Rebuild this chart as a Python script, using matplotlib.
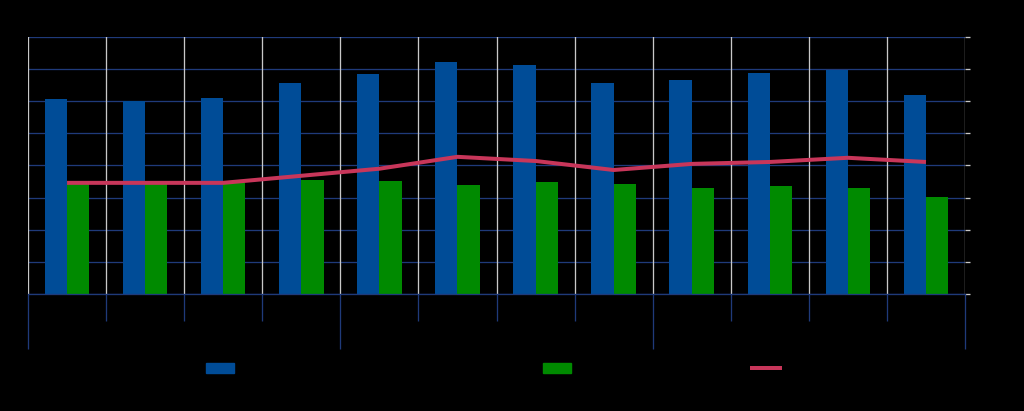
import numpy as np
import matplotlib.pyplot as plt
from matplotlib.patches import Patch
from matplotlib.lines import Line2D

# values (units of one gridline step)
blue_vals = [6.07, 6.01, 6.10, 6.57, 6.85, 7.23, 7.13, 6.57, 6.67, 6.88, 6.98, 6.20]
green_vals = [3.43, 3.46, 3.46, 3.55, 3.52, 3.40, 3.49, 3.43, 3.30, 3.36, 3.30, 3.02]
red_vals = [3.46, 3.46, 3.46, 3.68, 3.90, 4.27, 4.14, 3.86, 4.05, 4.11, 4.24, 4.11]

BLUE = '#004c97'
GREEN = '#008a00'
RED = '#c8365a'
GRID = '#1f3a7a'
VGRID = '#c8c8c8'

PX = 72 / 100  # points per pixel


def main():
    fig = plt.figure(figsize=(10.24, 4.11), dpi=100, facecolor='black')
    ax = fig.add_axes([28/1024, 1 - 294/411, (965 - 28)/1024, (294 - 37)/411])
    ax.set_facecolor('black')

    n = len(blue_vals)
    x = np.arange(n) + 0.5
    w = 0.285
    ax.bar(x - w/2, blue_vals, w, color=BLUE, zorder=3)
    ax.bar(x + w/2, green_vals, w, color=GREEN, zorder=3)
    ax.plot(x, red_vals, color=RED, lw=4*PX, zorder=4, solid_capstyle='butt')

    ax.set_xlim(0, n)
    ax.set_ylim(0, 8)

    # horizontal gridlines
    ax.set_yticks(np.arange(0, 9))
    ax.yaxis.grid(True, color=GRID, lw=1.3*PX, zorder=1)
    # vertical separators between categories
    for b in range(0, n + 1):
        ax.axvline(b, color=VGRID, lw=1.3*PX, zorder=2)

    for s in ['top', 'left', 'right']:
        ax.spines[s].set_visible(False)
    ax.spines['bottom'].set_color(GRID)
    ax.spines['bottom'].set_linewidth(1.3*PX)
    ax.spines['bottom'].set_zorder(5)

    # multi-level category ticks
    ax.set_xticks([0, 4, 8, 12])
    ax.set_xticks(np.arange(0, n + 1), minor=True)
    ax.tick_params(axis='x', which='major', length=55*PX, width=1.3*PX, color=GRID,
                   labelbottom=False)
    ax.tick_params(axis='x', which='minor', length=27*PX, width=1.3*PX, color=GRID,
                   labelbottom=False)
    ax.tick_params(axis='y', left=False, labelleft=False, right=True,
                   length=5*PX, width=1.3*PX, color=VGRID, labelright=False)

    handles = [Patch(color=BLUE), Patch(color=GREEN),
               Line2D([], [], color=RED, lw=4*PX)]
    xs = [206, 543, 752]
    for h, xp in zip(handles, xs):
        fig.legend([h], [''], loc='center left',
                   bbox_to_anchor=(xp/1024 - 0.012, 1 - 369/411),
                   frameon=False, handlelength=2.0, handleheight=0.8)

    fig.savefig('out.png', facecolor='black')


if __name__ == '__main__':
    main()
